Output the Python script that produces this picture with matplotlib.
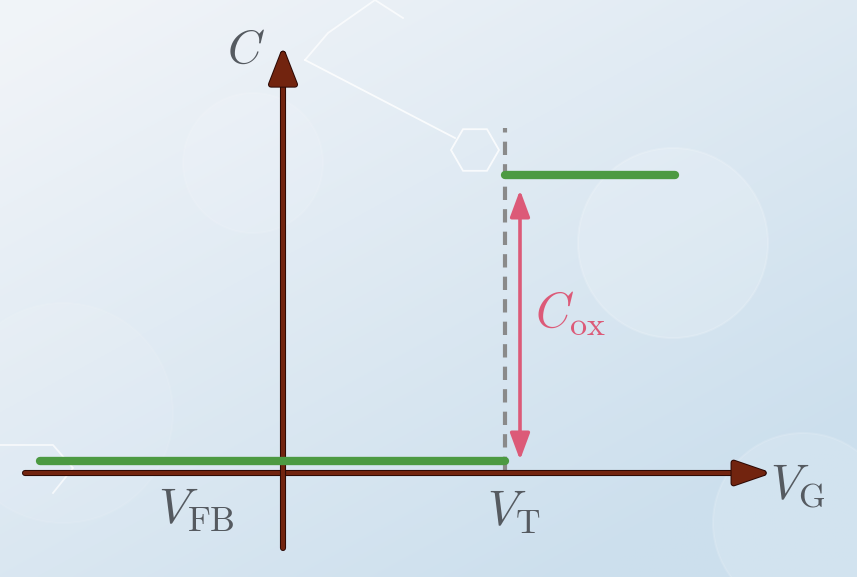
import numpy as np
import matplotlib
matplotlib.use("Agg")
import matplotlib.pyplot as plt
from matplotlib.patches import FancyArrowPatch, RegularPolygon, Circle
import matplotlib.patheffects as pe

plt.rcParams['mathtext.fontset'] = 'cm'

# ---- data (conceptual units; origin where the axes cross) ----
v_fb = 0.0            # flat-band voltage (on the C axis)
v_t = 2.22            # threshold voltage
c_low = 0.12          # capacitance below V_T
c_high = 2.98         # capacitance above V_T
v_start = -2.43       # green curve start
v_end = 3.92          # green curve end
x_axis_span = [-2.58, 4.87]   # horizontal axis extent
y_axis_span = [-0.75, 4.25]   # vertical axis extent
dash_span = [0.03, 3.45]      # V_T dashed marker extent
cox_span = [0.13, 2.83]       # C_ox arrow extent

fig = plt.figure(figsize=(8.57, 5.77), dpi=100)
ax = fig.add_axes([0, 0, 1, 1])
xmin, xmax = -2.83, 5.74
ymin, ymax = -1.04, 4.73
ax.set_xlim(xmin, xmax)
ax.set_ylim(ymin, ymax)
ax.axis('off')

# background gradient
ny, nx = 300, 450
yy, xx = np.mgrid[0:1:ny*1j, 0:1:nx*1j]
t = np.clip(0.55 * xx + 0.75 * (1 - yy) * 0.9 - 0.05, 0, 1)
c_top = np.array([0.945, 0.957, 0.973])
c_bot = np.array([0.80, 0.875, 0.93])
img = c_top[None, None, :] * (1 - t[..., None]) + c_bot[None, None, :] * t[..., None]
ax.imshow(img, extent=[xmin, xmax, ymax, ymin], aspect='auto', zorder=0, origin='upper')
ax.set_ylim(ymin, ymax)

# faint bokeh circles
for (cx, cy, r, a) in [(3.9, 2.3, 0.95, 0.16), (-0.3, 3.1, 0.7, 0.10), (5.2, -0.5, 0.9, 0.13),
                       (-2.2, 0.6, 1.1, 0.08)]:
    ax.add_patch(Circle((cx, cy), r, facecolor='white', edgecolor='white', alpha=a, lw=1.5, zorder=1))

# faint hexagon outlines
hex_kw = dict(facecolor='none', edgecolor='white', lw=1.3, alpha=0.8, zorder=1)
ax.add_patch(RegularPolygon((1.92, 3.23), 6, radius=0.24, orientation=np.pi/6, **hex_kw))
ax.plot([0.22, 1.72], [4.13, 3.35], color='white', lw=1.3, alpha=0.8, zorder=1)
ax.plot([0.22, 0.45, 0.92, 1.2], [4.13, 4.4, 4.73, 4.55], color='white', lw=1.3, alpha=0.7, zorder=1)
ax.plot([-2.83, -2.3, -2.1, -2.3], [0.28, 0.28, 0.05, -0.2], color='white', lw=1.3, alpha=0.7, zorder=1)

brown = '#72240f'
outline = [pe.Stroke(linewidth=4.4, foreground='#2a0804'), pe.Normal()]

# axes arrows
hx = FancyArrowPatch((x_axis_span[0], 0), (x_axis_span[1], 0),
                     arrowstyle='-|>,head_length=1.8,head_width=0.62',
                     mutation_scale=12, color=brown, lw=3.0, zorder=3,
                     capstyle='round', shrinkA=0, shrinkB=0)
hx.set_path_effects(outline)
ax.add_patch(hx)
vy = FancyArrowPatch((v_fb, y_axis_span[0]), (v_fb, y_axis_span[1]),
                     arrowstyle='-|>,head_length=1.85,head_width=0.72',
                     mutation_scale=12, color=brown, lw=3.0, zorder=3,
                     shrinkA=0, shrinkB=0)
vy.set_path_effects(outline)
ax.add_patch(vy)

# V_T dashed marker
ax.plot([v_t, v_t], dash_span, color='#8a8a8a', lw=3.0, ls=(0, (3.2, 2.2)), zorder=2)

# green C-V step
ax.plot([v_start, v_t], [c_low, c_low], color='#4c9a42', lw=6, solid_capstyle='round', zorder=4)
ax.plot([v_t, v_end], [c_high, c_high], color='#4c9a42', lw=6, solid_capstyle='round', zorder=4)

# C_ox double arrow
pink = '#dc5a78'
ca = FancyArrowPatch((v_t + 0.15, cox_span[0]), (v_t + 0.15, cox_span[1]),
                     arrowstyle='<|-|>,head_length=1.35,head_width=0.5',
                     mutation_scale=12, color=pink, lw=2.6, zorder=4,
                     shrinkA=0, shrinkB=0)
ax.add_patch(ca)

gray = '#555a60'
ax.text(-0.37, 4.23, r'$C$', fontsize=34, color=gray, ha='center', va='center', zorder=5)
ax.text(5.15, -0.12, r'$V_{\mathrm{G}}$', fontsize=35, color=gray, ha='center', va='center', zorder=5)
ax.text(-0.87, -0.37, r'$V_{\mathrm{FB}}$', fontsize=36, color=gray, ha='center', va='center', zorder=5)
ax.text(v_t + 0.09, -0.39, r'$V_{\mathrm{T}}$', fontsize=35, color=gray, ha='center', va='center', zorder=5)
ax.text(v_t + 0.66, 1.6, r'$C_{\mathrm{ox}}$', fontsize=35, color=pink, ha='center', va='center', zorder=5)

fig.savefig('out.png', dpi=100)
